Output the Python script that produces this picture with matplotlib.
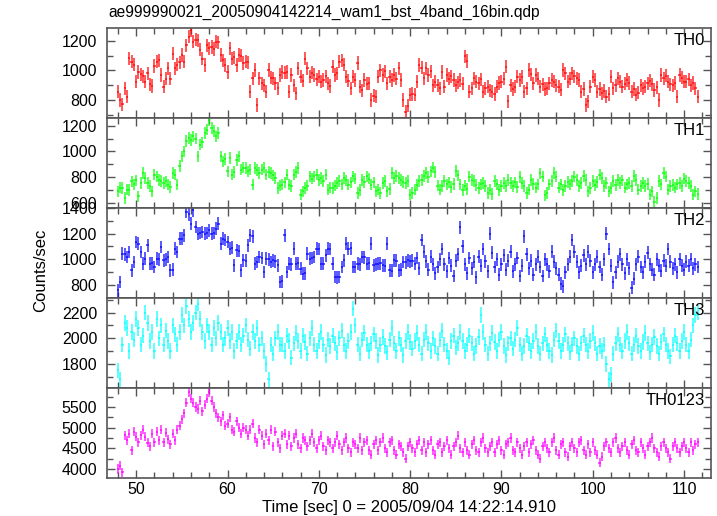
import numpy as np
import matplotlib
matplotlib.use('Agg')
import matplotlib.pyplot as plt
from matplotlib.ticker import MultipleLocator

plt.rcParams['font.family'] = ['Liberation Sans', 'DejaVu Sans']

# time bins (0.25 s), first bin centre
t_start = 48.0
bin_size = 0.25

# count rates (counts/sec)
th0 = [
    857, 800, 770, 880, 823, 1082, 1060, 1040, 925, 990,
    975, 960, 925, 980, 905, 895, 1030, 1060, 1070, 970,
    890, 945, 1015, 945, 1115, 1015, 1040, 1055, 1105, 1060,
    1170, 1230, 1275, 1195, 1210, 1205, 1140, 1080, 1037, 1170,
    1150, 1160, 1145, 1195, 1190, 1105, 1070, 1037, 990, 1150,
    1080, 1090, 1037, 1105, 1100, 1050, 1060, 1055, 857, 947,
    1003, 766, 947, 913, 900, 857, 1003, 950, 947, 913,
    880, 970, 990, 985, 990, 857, 970, 900, 845, 1015,
    958, 930, 1080, 1015, 958, 985, 970, 940, 958, 925,
    935, 960, 913, 895, 1025, 970, 980, 1060, 1070, 1040,
    958, 930, 880, 958, 935, 1050, 890, 865, 935, 910,
    913, 800, 830, 823, 958, 1000, 970, 995, 913, 958,
    935, 970, 945, 1015, 935, 800, 720, 760, 835, 840,
    835, 925, 1037, 1020, 947, 1015, 970, 995, 900, 925,
    900, 880, 990, 890, 970, 945, 960, 935, 900, 920,
    935, 910, 1095, 1065, 857, 880, 947, 925, 913, 940,
    857, 880, 890, 865, 857, 840, 890, 915, 925, 945,
    1025, 790, 900, 875, 890, 958, 935, 955, 857, 880,
    1003, 975, 913, 970, 945, 890, 905, 875, 880, 913,
    935, 925, 900, 890, 870, 1003, 980, 925, 945, 980,
    960, 947, 935, 857, 875, 766, 790, 890, 958, 935,
    857, 875, 845, 860, 823, 840, 958, 880, 900, 947,
    925, 890, 910, 935, 915, 857, 875, 835, 850, 900,
    880, 890, 913, 930, 905, 867, 885, 800, 970, 947,
    965, 925, 905, 900, 915, 823, 970, 950, 925, 925,
    940, 900, 915, 880, 823,
]

th1 = [
    691, 720, 715, 640, 704, 700, 768, 745, 775, 652,
    756, 833, 794, 756, 730, 691, 820, 805, 780, 770,
    756, 768, 743, 725, 833, 820, 743, 885, 962, 1000,
    1080, 1105, 1090, 1117, 1100, 962, 1053, 1070, 1143, 1170,
    1245, 1180, 1160, 1117, 1143, 962, 923, 940, 846, 950,
    820, 840, 936, 962, 859, 875, 872, 846, 860, 743,
    872, 855, 833, 859, 875, 820, 840, 833, 815, 794,
    717, 735, 743, 760, 820, 743, 730, 820, 840, 872,
    665, 690, 717, 735, 807, 790, 807, 820, 780, 795,
    770, 820, 704, 720, 717, 735, 756, 770, 745, 794,
    775, 743, 760, 807, 790, 678, 700, 780, 765, 807,
    790, 743, 760, 691, 705, 680, 756, 770, 691, 710,
    833, 794, 810, 794, 780, 765, 756, 770, 665, 680,
    704, 740, 770, 780, 810, 835, 800, 845, 875, 840,
    735, 705, 730, 770, 745, 760, 725, 750, 850, 815,
    745, 700, 735, 710, 805, 780, 770, 740, 715, 745,
    755, 730, 680, 705, 670, 770, 745, 700, 730, 755,
    730, 780, 755, 730, 760, 725, 800, 755, 730, 680,
    705, 780, 750, 720, 745, 830, 805, 660, 680, 745,
    770, 835, 805, 720, 745, 700, 730, 765, 745, 770,
    805, 780, 730, 755, 810, 780, 690, 715, 770, 740,
    765, 820, 795, 730, 755, 690, 715, 770, 740, 780,
    755, 775, 720, 745, 755, 730, 810, 780, 705, 730,
    755, 730, 750, 665, 690, 610, 640, 770, 745, 835,
    805, 705, 730, 740, 720, 745, 755, 730, 790, 770,
    755, 730, 665, 690, 670,
]

th2 = [
    759, 823, 1044, 1040, 1018, 1057, 914, 979, 1135, 1120,
    1057, 966, 1005, 1109, 966, 970, 940, 1005, 1000, 1096,
    992, 1000, 1018, 914, 920, 1083, 1057, 1160, 1161, 1187,
    1369, 1350, 1278, 1382, 1252, 1200, 1205, 1213, 1200, 1205,
    1226, 1200, 1205, 1239, 1278, 1122, 1161, 1150, 1135, 1083,
    1090, 953, 1070, 1065, 914, 992, 990, 1109, 1187, 1180,
    966, 979, 1018, 1010, 901, 1005, 1000, 979, 992, 985,
    953, 823, 830, 1187, 901, 966, 960, 1083, 966, 970,
    927, 888, 890, 1044, 1005, 1010, 1018, 1083, 1080, 966,
    966, 1031, 1083, 1080, 966, 862, 860, 862, 940, 992,
    1122, 1083, 1085, 940, 940, 966, 960, 1018, 1015, 966,
    970, 1122, 953, 960, 966, 970, 953, 950, 1122, 914,
    910, 992, 990, 914, 920, 979, 975, 992, 985, 990,
    965, 1010, 930, 1150, 1060, 985, 920, 1020, 960, 890,
    940, 1000, 1080, 960, 905, 1010, 950, 870, 990, 1040,
    1250, 1100, 960, 890, 1010, 930, 980, 860, 1020, 950,
    1080, 985, 905, 1200, 1050, 940, 1000, 880, 960, 1030,
    920, 990, 1060, 905, 960, 1010, 870, 950, 1180, 1040,
    930, 990, 880, 960, 1020, 940, 870, 1000, 960, 905,
    1060, 980, 930, 880, 810, 790, 900, 960, 1020, 1150,
    1060, 980, 900, 950, 1030, 960, 1060, 990, 900, 960,
    1020, 940, 880, 1000, 1200, 1080, 950, 820, 900, 980,
    1040, 960, 890, 1000, 930, 780, 850, 960, 1020, 940,
    900, 980, 1050, 960, 920, 880, 1000, 950, 910, 990,
    950, 1080, 980, 930, 960, 900, 1000, 950, 920, 980,
    950, 1000, 930, 960, 940,
]

th3 = [
    1750, 1680, 1950, 2120, 2080, 1900, 2050, 1990, 2150, 2080,
    1950, 2020, 2200, 2120, 1980, 2050, 1900, 2150, 2000, 2100,
    1950, 2060, 1980, 1900, 2100, 2030, 1950, 2050, 2180, 2100,
    2250, 2150, 2050, 2120, 2200, 2270, 2150, 2050, 1980, 2100,
    2050, 1950, 2080, 2000, 2120, 2050, 1950, 2000, 2080, 1980,
    2050, 1900, 1980, 2050, 1950, 2020, 2100, 1990, 1920, 2050,
    1980, 2080, 1950, 2000, 1900, 1800, 1680, 1950, 1880, 2000,
    2050, 1950, 1950, 1900, 2020, 1980, 1850, 1960, 2040, 1980,
    1900, 2020, 1970, 1880, 2000, 2080, 1950, 1900, 1980, 2050,
    1950, 1870, 1990, 1940, 2020, 1960, 1890, 2000, 2060, 1950,
    1900, 1980, 2050, 2230, 2100, 1950, 1880, 1990, 2040, 1950,
    1900, 1960, 2030, 1980, 1870, 1950, 2010, 1940, 1890, 1990,
    2080, 1960, 1900, 2000, 1950, 1870, 1980, 2050, 1970, 1920,
    1980, 2040, 1950, 1880, 1990, 2050, 1960, 1900, 2000, 1940,
    1880, 1990, 2060, 1950, 1900, 1850, 1980, 2020, 1930, 1960,
    2050, 1980, 1900, 1950, 2020, 1960, 1880, 1940, 2010, 2180,
    2050, 1950, 1880, 1960, 2040, 1970, 1900, 1990, 2050, 1940,
    1870, 1960, 2000, 1920, 1990, 2080, 1950, 1880, 1940, 2020,
    1960, 1900, 1980, 2050, 1940, 1880, 1960, 2030, 1950, 1900,
    1870, 1990, 2060, 1980, 1900, 1950, 2030, 1960, 1890, 1950,
    2000, 1940, 1880, 1960, 2020, 1950, 1900, 1980, 2040, 1960,
    1880, 1940, 1900, 1950, 1800, 1680, 1720, 1880, 1960, 2030,
    1950, 1900, 1980, 2050, 1960, 1880, 1950, 2020, 1940, 1900,
    1970, 2040, 1960, 1890, 1950, 2010, 1940, 1880, 1970, 2030,
    1950, 1900, 1860, 1950, 2020, 1960, 1900, 1980, 2050, 1950,
    1900, 1990, 2100, 2180, 2200,
]

th0123 = [
    4000, 4080, 3920, 4820, 4700, 4850, 4450, 4900, 4780, 4650,
    4820, 4950, 4780, 4640, 4550, 4850, 4650, 4900, 4700, 4950,
    4650, 4880, 4720, 4600, 4850, 4700, 4950, 5050, 5200, 5350,
    5600, 5850, 5700, 5600, 5500, 5450, 5650, 5400, 5550, 5700,
    5850, 5650, 5500, 5350, 5250, 5150, 5300, 5050, 5100, 5250,
    4950, 4900, 5150, 5000, 4850, 5000, 4950, 4800, 4950, 5100,
    4750, 4650, 4950, 4800, 4600, 4850, 4700, 4950, 4550, 4900,
    4650, 4500, 4800, 4850, 4600, 4800, 4550, 4750, 4850, 4600,
    4500, 4750, 4700, 4550, 4700, 4850, 4650, 4500, 4700, 4800,
    4550, 4450, 4700, 4650, 4500, 4650, 4800, 4600, 4450, 4650,
    4750, 4500, 4400, 4650, 4600, 4500, 4750, 4450, 4650, 4700,
    4450, 4350, 4600, 4700, 4450, 4650, 4750, 4500, 4400, 4650,
    4700, 4450, 4350, 4600, 4550, 4400, 4250, 4550, 4650, 4500,
    4400, 4600, 4700, 4450, 4650, 4400, 4600, 4700, 4450, 4350,
    4600, 4650, 4400, 4550, 4700, 4500, 4350, 4550, 4650, 4800,
    4500, 4400, 4650, 4450, 4350, 4600, 4700, 4450, 4400, 4650,
    4750, 4500, 4400, 4550, 4650, 4400, 4600, 4700, 4450, 4350,
    4600, 4650, 4750, 4450, 4400, 4650, 4500, 4350, 4550, 4650,
    4400, 4600, 4700, 4450, 4350, 4250, 4550, 4650, 4500, 4400,
    4650, 4750, 4450, 4350, 4600, 4650, 4400, 4300, 4550, 4650,
    4500, 4400, 4650, 4700, 4450, 4350, 4600, 4400, 4650, 4450,
    4350, 4150, 4300, 4550, 4650, 4500, 4400, 4650, 4750, 4500,
    4400, 4550, 4650, 4450, 4350, 4600, 4700, 4450, 4400, 4650,
    4500, 4350, 4550, 4650, 4750, 4500, 4400, 4300, 4550, 4650,
    4500, 4400, 4250, 4550, 4650, 4500, 4400, 4550, 4650, 4500,
    4400, 4650, 4450, 4600, 4650,
]

# typical half length of the error bars per band
errors = [45, 45, 50, 60, 110]

series = [th0, th1, th2, th3, th0123]
names = ['TH0', 'TH1', 'TH2', 'TH3', 'TH0123']
colors = ['#ff0000', '#00ff00', '#0000ff', '#00ffff', '#ff00ff']
ylims = [(679, 1290), (563, 1261), (699, 1401), (1614, 2314), (3783, 5959)]
ymajor = [200, 200, 200, 200, 500]
yminor = [100, 100, 100, 100, 250]

fig, axes = plt.subplots(5, 1, sharex=True, figsize=(7.17, 5.16), dpi=100)
fig.subplots_adjust(left=0.1492, right=0.991, top=0.9463, bottom=0.0736, hspace=0)

for i, ax in enumerate(axes):
    vals = np.array(series[i], dtype=float)
    t = t_start + bin_size * np.arange(len(vals))
    ax.errorbar(t, vals, xerr=bin_size / 2, yerr=errors[i], fmt='none',
                ecolor=colors[i], elinewidth=1.4, capsize=0, alpha=0.65)
    ax.set_ylim(*ylims[i])
    ax.set_xlim(46.8, 112.9)
    ax.yaxis.set_major_locator(MultipleLocator(ymajor[i]))
    ax.yaxis.set_minor_locator(MultipleLocator(yminor[i]))
    ax.xaxis.set_major_locator(MultipleLocator(10))
    ax.xaxis.set_minor_locator(MultipleLocator(2))
    ax.tick_params(which='both', direction='in', top=True, right=True,
                   labelsize=11.5, width=1.0, color='#555555')
    ax.tick_params(which='major', length=6, pad=7)
    ax.tick_params(which='minor', length=4)
    ax.tick_params(axis='x', pad=3)
    for sp in ax.spines.values():
        sp.set_color('#555555')
        sp.set_linewidth(1.2)
    ax.text(0.991, 0.94, names[i], transform=ax.transAxes, ha='right', va='top',
            fontsize=12)

axes[-1].set_xlabel('Time [sec] 0 = 2005/09/04 14:22:14.910', fontsize=12, labelpad=2)
fig.text(0.056, 0.477, 'Counts/sec', rotation=90, ha='center', va='center', fontsize=12)
fig.text(0.151, 0.962, 'ae999990021_20050904142214_wam1_bst_4band_16bin.qdp',
         ha='left', va='bottom', fontsize=11.2)

fig.savefig('out.png', dpi=100)
